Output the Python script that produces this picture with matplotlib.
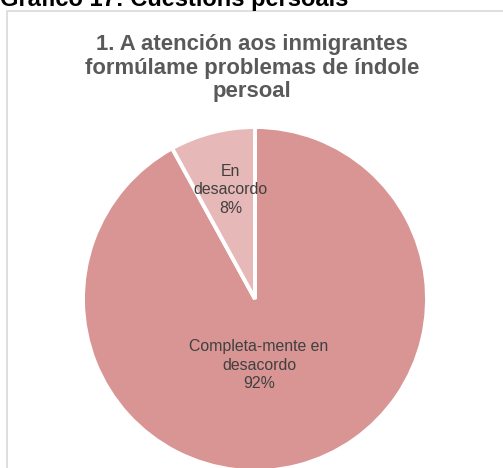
import matplotlib
matplotlib.use("Agg")
import matplotlib.pyplot as plt
from matplotlib.patches import Rectangle

plt.rcParams['font.family'] = ['Liberation Sans', 'DejaVu Sans']

# Data
categories = ["Completa-mente en desacordo", "En desacordo"]
values = [92, 8]
colors = ["#D99594", "#E6B8B7"]
fig_caption = "Gráfico 17: Cuestións persoais"
chart_title = "1. A atención aos inmigrantes\nformúlame problemas de índole\npersoal"
label_text = ["Completa-mente en\ndesacordo", "En\ndesacordo"]

W, H = 503, 468
fig = plt.figure(figsize=(W / 100, H / 100), dpi=100)

# Chart border (light gray frame, cut by figure edges)
fig.patches.append(Rectangle((6.5 / W, -0.1), 1.2, (H - 11) / H + 0.1,
                             transform=fig.transFigure, fill=False,
                             edgecolor="#D9D9D9", linewidth=1.2))

# Caption above chart (partly cut off)
fig.text(0.5 / W, 1 - 6 / H, fig_caption, fontsize=17, fontweight="bold",
         color="black", ha="left", va="baseline")

# Chart title
fig.text(252 / W, 1 - 34 / H, chart_title, fontsize=15.9, fontweight="bold",
         color="#595959", ha="center", va="top", linespacing=1.17)

# Pie axes
cx, cy, r = 255, 299, 172
ax = fig.add_axes([(cx - r) / W, (H - cy - r) / H, 2 * r / W, 2 * r / H])

wedges, _ = ax.pie(values, colors=colors, startangle=90, counterclock=False,
                   radius=1, wedgeprops=dict(edgecolor="white", linewidth=2.8),
                   labeldistance=None, labels=categories)
ax.set_xlim(-1, 1)
ax.set_ylim(-1, 1)
ax.set_aspect("equal")
ax.axis("off")

# Data labels (layout positions in axes data units)
label_pos = [(0.023, -0.384), (-0.14, 0.635)]
total = sum(values)
for txt, v, (x, y) in zip(label_text, values, label_pos):
    ax.text(x, y, f"{txt}\n{round(100 * v / total)}%", ha="center", va="center",
            fontsize=11.4, color="#404040", linespacing=1.3)

fig.savefig("out.png", dpi=100)
